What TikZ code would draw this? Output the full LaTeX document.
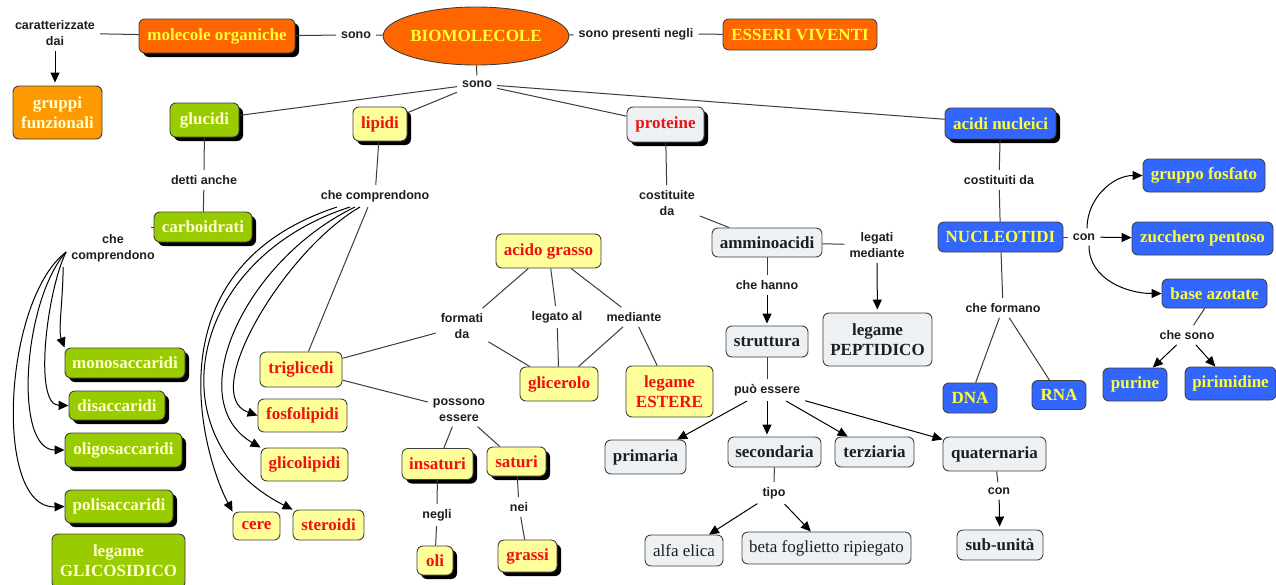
\documentclass[tikz,border=0pt]{standalone}
\usepackage{fontspec}
\setmainfont{Liberation Serif}
\setsansfont{Liberation Sans}
\usetikzlibrary{shapes.geometric,arrows.meta,shadows}

\definecolor{orangeF}{HTML}{FF6600}
\definecolor{orangeL}{HTML}{FF9900}
\definecolor{yellowT}{HTML}{FFFF33}
\definecolor{paleT}{HTML}{FFFFCC}
\definecolor{greenF}{HTML}{99CC00}
\definecolor{yellowF}{HTML}{FFFF99}
\definecolor{redT}{HTML}{F01010}
\definecolor{grayF}{HTML}{EDF1F4}
\definecolor{blueF}{HTML}{3366FF}
\definecolor{darkT}{HTML}{1E1E1E}
\definecolor{lineC}{HTML}{3C3C3C}

\tikzset{
  box/.style={draw=black!75, line width=0.9pt, rounded corners=6pt, align=center,
    inner sep=0pt, font=\bfseries\fontsize{17}{20}\selectfont},
  sz/.style 2 args={minimum width=#1, minimum height=#2},
  shad/.style={general shadow={fill=black, shadow xshift=4pt, shadow yshift=-4pt}},
  obox/.style={box, fill=orangeF, text=yellowT},
  lobox/.style={box, fill=orangeL, text=paleT},
  gbox/.style={box, fill=greenF, text=paleT},
  ybox/.style={box, fill=yellowF, text=redT},
  pbox/.style={box, fill=grayF, text=darkT},
  bbox/.style={box, fill=blueF, text=yellowT},
  plain/.style={font=\fontsize{17}{20}\selectfont},
  lab/.style={font=\sffamily\bfseries\fontsize{12.5}{16}\selectfont, text=darkT,
    align=center, inner xsep=5pt, inner ysep=5pt},
  link/.style={draw=lineC, line width=1pt},
  arr/.style={draw=black, line width=1pt, -{Triangle[length=10pt,width=9pt]}},
}

\begin{document}
\begin{tikzpicture}[x=1pt,y=1pt]
\fill[white] (0,0) rectangle (1276,-584);
\useasboundingbox (0,0) rectangle (1276,-584);

% ---------- top row ----------
\node[obox,shad,sz={156pt}{34pt}] (molec) at (217,-36) {molecole organiche};
\node[ellipse,draw=black!75,line width=0.9pt,fill=orangeF,text=yellowT,inner sep=0pt,
      minimum width=148pt,minimum height=58pt,font=\bfseries\fontsize{17}{20}\selectfont]
      (bio) at (476,-36) {BIOMOLECOLE};
\node[obox,sz={154pt}{31pt}] (esseri) at (800,-34.5) {ESSERI VIVENTI};
\node[lab] (carat) at (55,-33) {caratterizzate\\dai};
\node[lab] (sonoA) at (356,-35) {sono};
\node[lab] (presenti) at (636,-34) {sono presenti negli};
\node[lobox,sz={89pt}{53pt}] (gruppi) at (57.5,-112.5) {gruppi\\funzionali};
\node[lab] (sonoB) at (477,-84) {sono};

% ---------- four families ----------
\node[gbox,shad,sz={69pt}{34pt}] (glucidi) at (204.5,-120) {glucidi};
\node[ybox,shad,sz={54pt}{34pt}] (lipidi) at (380,-124) {lipidi};
\node[pbox,shad,text=redT,sz={77pt}{35pt}] (proteine) at (665.5,-124.5) {proteine};
\node[bbox,shad,sz={111pt}{31pt}] (acidi) at (1000.5,-123.5) {acidi nucleici};

% ---------- glucidi ----------
\node[lab] (detti) at (204,-180) {detti anche};
\node[gbox,shad,sz={98pt}{30pt}] (carb) at (203,-227) {carboidrati};
\node[lab] (ccA) at (113,-248) {che\\comprendono};
\node[gbox,shad,sz={120pt}{30pt}] (mono) at (125,-363) {monosaccaridi};
\node[gbox,shad,sz={96pt}{29pt}] (di) at (117,-405.5) {disaccaridi};
\node[gbox,shad,sz={117pt}{34pt}] (oligo) at (123.5,-450) {oligosaccaridi};
\node[gbox,shad,sz={108pt}{33pt}] (poli) at (119,-506.5) {polisaccaridi};
\node[gbox,sz={133pt}{54pt}] (glicos) at (118.5,-561) {legame\\GLICOSIDICO};

% ---------- lipidi ----------
\node[lab] (ccB) at (375,-196) {che comprendono};
\node[ybox,sz={82pt}{35pt}] (trig) at (301,-369.5) {triglicedi};
\node[ybox,sz={89pt}{33pt}] (fosfo) at (302.5,-415.5) {fosfolipidi};
\node[ybox,sz={87pt}{33pt}] (glico) at (304.5,-464.5) {glicolipidi};
\node[ybox,sz={47pt}{28pt}] (cere) at (256.5,-526) {cere};
\node[ybox,sz={71pt}{30pt}] (steroidi) at (328.5,-525) {steroidi};
\node[ybox,sz={105pt}{34pt}] (acido) at (548.5,-251) {acido grasso};
\node[lab] (formati) at (462,-326) {formati\\da};
\node[lab] (legato) at (557,-317) {legato al};
\node[lab] (mediante) at (634,-317) {mediante};
\node[ybox,sz={78pt}{34pt}] (glicer) at (559,-384) {glicerolo};
\node[ybox,sz={87pt}{51pt}] (estere) at (669.5,-391.5) {legame\\ESTERE};
\node[lab] (possono) at (459,-410) {possono\\essere};
\node[ybox,shad,sz={71pt}{31pt}] (insat) at (437.5,-464) {insaturi};
\node[ybox,shad,sz={59pt}{29pt}] (sat) at (516.5,-461.5) {saturi};
\node[lab] (negli) at (437,-515) {negli};
\node[ybox,shad,sz={36pt}{29pt}] (oli) at (435,-560.5) {oli};
\node[lab] (nei) at (519,-507) {nei};
\node[ybox,shad,sz={59pt}{32pt}] (grassi) at (527.5,-556) {grassi};

% ---------- proteine ----------
\node[lab] (costituite) at (667,-203) {costituite\\da};
\node[pbox,sz={110pt}{29pt}] (ammino) at (767,-242.5) {amminoacidi};
\node[lab] (legati) at (877,-245) {legati\\mediante};
\node[pbox,sz={109pt}{53pt}] (pept) at (877.5,-339.5) {legame\\PEPTIDICO};
\node[lab] (hanno) at (767,-285) {che hanno};
\node[pbox,sz={82pt}{31pt}] (strutt) at (767,-341.5) {struttura};
\node[lab] (puo) at (767,-390) {può essere};
\node[pbox,sz={81pt}{34pt}] (prim) at (645.5,-457) {primaria};
\node[pbox,sz={93pt}{30pt}] (second) at (774.5,-452) {secondaria};
\node[pbox,sz={79pt}{30pt}] (terz) at (874.5,-452) {terziaria};
\node[pbox,sz={103pt}{34pt}] (quat) at (994.5,-454) {quaternaria};
\node[lab] (tipo) at (774,-493) {tipo};
\node[pbox,plain,sz={78pt}{31pt}] (alfa) at (684,-550.5) {alfa elica};
\node[pbox,plain,sz={169pt}{32pt}] (beta) at (826.5,-548) {beta foglietto ripiegato};
\node[lab] (conQ) at (999,-491) {con};
\node[pbox,sz={86pt}{30pt}] (sub) at (1000,-545) {sub-unità};

% ---------- acidi nucleici ----------
\node[lab] (costituiti) at (999,-180) {costituiti da};
\node[bbox,sz={125pt}{30pt}] (nucleo) at (1000.5,-237) {NUCLEOTIDI};
\node[lab] (conN) at (1084,-237) {con};
\node[bbox,sz={122pt}{33pt}] (fosfato) at (1204,-175.5) {gruppo fosfato};
\node[bbox,sz={141pt}{33pt}] (zucchero) at (1202.5,-238.5) {zucchero pentoso};
\node[bbox,sz={105pt}{29pt}] (base) at (1214.5,-293.5) {base azotate};
\node[lab] (chesono) at (1187,-335) {che sono};
\node[bbox,sz={64pt}{33pt}] (purine) at (1135,-384.5) {purine};
\node[bbox,sz={91pt}{33pt}] (pirim) at (1230.5,-383.5) {pirimidine};
\node[lab] (formano) at (1003,-308) {che formano};
\node[bbox,sz={54pt}{30pt}] (dna) at (970,-398) {DNA};
\node[bbox,sz={54pt}{29pt}] (rna) at (1059,-395) {RNA};

% ---------- connectors ----------
\draw[link] (carat) -- (molec);
\draw[arr, shorten >=3pt] (carat) -- (carat |- gruppi.north);
\draw[link] (molec) -- (sonoA);
\draw[link] (sonoA) -- (bio);
\draw[link] (bio) -- (presenti);
\draw[link] (presenti) -- (esseri);
\draw[link] (bio) -- (sonoB);
\draw[link] (sonoB) -- (glucidi);
\draw[link] (sonoB) -- (lipidi);
\draw[link] (sonoB) -- (proteine);
\draw[link] (sonoB) -- (acidi);

% glucidi
\draw[link] (glucidi) -- (detti);
\draw[link] (detti) -- (carb);
\draw[link] (carb.west) -- ([xshift=-3pt]carb.west);
\draw[arr] ([xshift=-3pt]ccA.south west) .. controls (63,-300) and (58,-330) .. (mono.north west);
\draw[arr] ([yshift=-4pt]ccA.west) .. controls (47,-290) and (33,-405) .. (di.west);
\draw[arr] ([yshift=-4pt]ccA.west) .. controls (23,-300) and (13,-450) .. (oligo.west);
\draw[arr] ([yshift=-4pt]ccA.west) .. controls (3,-300) and (-7,-509) .. (poli.west);

% lipidi
\draw[link] (lipidi) -- (ccB);
\draw[link] ([xshift=-7pt]ccB.south) -- (trig);
\draw[arr] ([xshift=-15pt]ccB.south) .. controls (285,-250) and (198,-395) .. (fosfo.west);
\draw[arr] ([xshift=-20pt]ccB.south) .. controls (245,-260) and (180,-400) .. (glico.north west);
\draw[arr] ([xshift=-25pt]ccB.south) .. controls (185,-260) and (155,-440) .. (steroidi.north west);
\draw[arr] ([xshift=-38pt]ccB.south) .. controls (145,-270) and (205,-460) .. (cere.north west);
\draw[link] (trig) -- (formati);
\draw[link] (acido) -- (formati);
\draw[link] (formati) -- (glicer);
\draw[link] (acido) -- (legato);
\draw[link] (legato) -- (glicer);
\draw[link] (acido) -- (mediante);
\draw[link] (mediante) -- (glicer);
\draw[link] (mediante) -- (estere);
\draw[link] (trig) -- (possono);
\draw[link] (possono) -- (insat);
\draw[link] (possono) -- (sat);
\draw[link] (insat) -- (negli);
\draw[link] (negli) -- (oli);
\draw[link] (sat) -- (nei);
\draw[link] (nei) -- (grassi);

% proteine
\draw[link] (proteine) -- (costituite);
\draw[link] (costituite) -- (ammino);
\draw[link] (ammino) -- (legati);
\draw[arr, shorten >=3pt] (legati) -- (pept);
\draw[link] (ammino) -- (hanno);
\draw[arr, shorten >=2pt] (hanno) -- (strutt);
\draw[link] (strutt) -- (puo);
\draw[arr] (puo) -- (prim);
\draw[arr, shorten >=2pt] (puo) -- (puo |- second.north);
\draw[arr] (puo) -- (terz);
\draw[arr] (puo) -- (quat);
\draw[link] (second) -- (tipo);
\draw[arr] (tipo) -- (alfa);
\draw[arr] (tipo) -- (beta);
\draw[link] (quat) -- (conQ);
\draw[arr, shorten >=3pt] (conQ) -- (sub);

% acidi nucleici
\draw[link] (acidi) -- (costituiti);
\draw[link] (costituiti) -- (nucleo);
\draw[link] (nucleo) -- (conN);
\draw[arr] ([xshift=3pt]conN.north) to[out=90,in=180] (fosfato.west);
\draw[arr] (conN) -- (zucchero);
\draw[arr] ([xshift=5pt]conN.south) to[out=-90,in=180] (base.west);
\draw[link] (base) -- (chesono);
\draw[arr] (chesono) -- (purine);
\draw[arr] (chesono) -- (pirim);
\draw[link] (nucleo) -- (formano);
\draw[link] (formano) -- (dna);
\draw[link] (formano) -- (rna);
\end{tikzpicture}
\end{document}
